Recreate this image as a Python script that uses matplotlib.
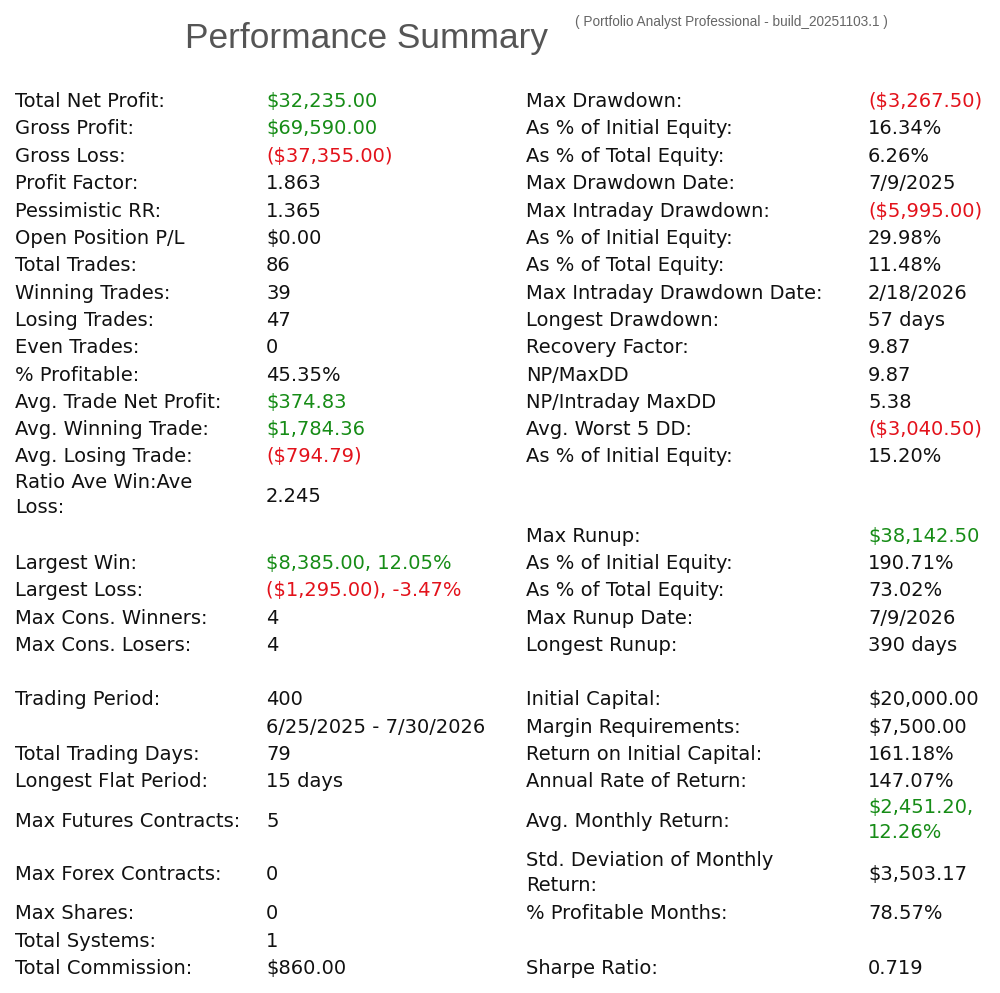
import matplotlib
matplotlib.use('Agg')
import matplotlib.pyplot as plt

W, H = 1000, 993

GREEN = '#168c16'
RED = '#e3121b'
BLACK = '#111111'

title = 'Performance Summary'
subtitle = '( Portfolio Analyst Professional - build_20251103.1 )'

left_labels = [
    'Total Net Profit:', 'Gross Profit:', 'Gross Loss:', 'Profit Factor:',
    'Pessimistic RR:', 'Open Position P/L', 'Total Trades:', 'Winning Trades:',
    'Losing Trades:', 'Even Trades:', '% Profitable:', 'Avg. Trade Net Profit:',
    'Avg. Winning Trade:', 'Avg. Losing Trade:', 'Ratio Ave Win:Ave\nLoss:',
    'Largest Win:', 'Largest Loss:', 'Max Cons. Winners:', 'Max Cons. Losers:',
    'Trading Period:', '', 'Total Trading Days:', 'Longest Flat Period:',
    'Max Futures Contracts:', 'Max Forex Contracts:', 'Max Shares:',
    'Total Systems:', 'Total Commission:',
]
left_values = [
    '$32,235.00', '$69,590.00', '($37,355.00)', '1.863', '1.365', '$0.00',
    '86', '39', '47', '0', '45.35%', '$374.83', '$1,784.36', '($794.79)',
    '2.245', '$8,385.00, 12.05%', '($1,295.00), -3.47%', '4', '4', '400',
    '6/25/2025 - 7/30/2026', '79', '15 days', '5', '0', '0', '1', '$860.00',
]
left_colors = [
    'g', 'g', 'r', 'k', 'k', 'k', 'k', 'k', 'k', 'k', 'k', 'g', 'g', 'r',
    'k', 'g', 'r', 'k', 'k', 'k', 'k', 'k', 'k', 'k', 'k', 'k', 'k', 'k',
]

right_labels = [
    'Max Drawdown:', 'As % of Initial Equity:', 'As % of Total Equity:',
    'Max Drawdown Date:', 'Max Intraday Drawdown:', 'As % of Initial Equity:',
    'As % of Total Equity:', 'Max Intraday Drawdown Date:', 'Longest Drawdown:',
    'Recovery Factor:', 'NP/MaxDD', 'NP/Intraday MaxDD', 'Avg. Worst 5 DD:',
    'As % of Initial Equity:', 'Max Runup:', 'As % of Initial Equity:',
    'As % of Total Equity:', 'Max Runup Date:', 'Longest Runup:',
    'Initial Capital:', 'Margin Requirements:', 'Return on Initial Capital:',
    'Annual Rate of Return:', 'Avg. Monthly Return:',
    'Std. Deviation of Monthly\nReturn:', '% Profitable Months:', 'Sharpe Ratio:',
]
right_values = [
    '($3,267.50)', '16.34%', '6.26%', '7/9/2025', '($5,995.00)', '29.98%',
    '11.48%', '2/18/2026', '57 days', '9.87', '9.87', '5.38', '($3,040.50)',
    '15.20%', '$38,142.50', '190.71%', '73.02%', '7/9/2026', '390 days',
    '$20,000.00', '$7,500.00', '161.18%', '147.07%', '$2,451.20,\n12.26%',
    '$3,503.17', '78.57%', '0.719',
]
right_colors = [
    'r', 'k', 'k', 'k', 'r', 'k', 'k', 'k', 'k', 'k', 'k', 'k', 'r', 'k',
    'g', 'k', 'k', 'k', 'k', 'k', 'k', 'k', 'k', 'g', 'k', 'k', 'k',
]

# row positions (pixels from top, row middle)
left_y = [100, 127, 155, 182, 210, 237, 264, 292, 319, 346, 374, 401, 428,
          455, 495, 562, 589, 617, 644, 698, 726, 753, 780, 820, 873, 912,
          940, 967]
right_y = [100, 127, 155, 182, 210, 237, 264, 292, 319, 346, 374, 401, 428,
           455, 535, 562, 589, 617, 644, 698, 726, 753, 780, 820, 873, 912,
           967]

cmap = {'g': GREEN, 'r': RED, 'k': BLACK}

fig = plt.figure(figsize=(W / 100, H / 100), dpi=100)
fig.patch.set_facecolor('white')


def put(x, y, s, color, **kw):
    # single lines sit on a baseline, wrapped cells are centred on the row
    if '\n' in s:
        fig.text(x / W, 1 - y / H, s, color=color, va='center', ha='left', **kw)
    else:
        fig.text(x / W, 1 - (y + 7) / H, s, color=color, va='baseline',
                 ha='left', **kw)


put(185, 41, title, '#555555', fontsize=25.4, family='Liberation Sans')
put(575, 19, subtitle, '#666666', fontsize=9.8, family='Liberation Sans')

body = dict(fontsize=14, family='DejaVu Sans', linespacing=1.45)
for lab, val, c, y in zip(left_labels, left_values, left_colors, left_y):
    put(15, y, lab, BLACK, **body)
    put(266, y, val, cmap[c], **body)

for lab, val, c, y in zip(right_labels, right_values, right_colors, right_y):
    put(526, y, lab, BLACK, **body)
    put(868, y, val, cmap[c], **body)

fig.savefig('out.png', dpi=100, facecolor='white')
